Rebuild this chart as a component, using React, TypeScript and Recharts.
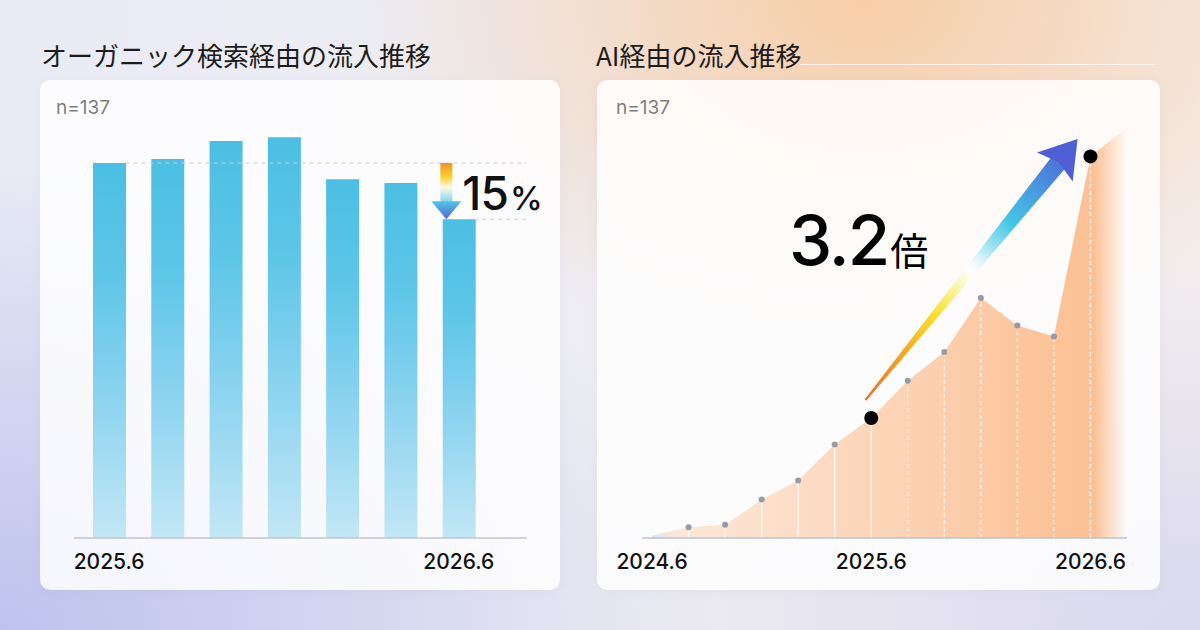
import React from 'react';
import { BarChart, Bar, ComposedChart, Area, Line, XAxis, YAxis, ReferenceLine } from 'recharts';

// オーガニック検索経由の流入 (2025.6 = 100)
const organicMonths = ['2025.6', '2025.8', '2025.10', '2025.12', '2026.2', '2026.4', '2026.6'];
const organicValues = [100, 101.1, 105.9, 106.9, 95.7, 94.7, 85];
const organicTicks = ['2025.6', '2026.6'];

// AI経由の流入 (2025.6 = 100)
const aiMonths = [
  '2024.6', '2024.8', '2024.10', '2024.12', '2025.2', '2025.4', '2025.6',
  '2025.8', '2025.10', '2025.12', '2026.2', '2026.4', '2026.6', '2026.8',
];
const aiValues = [2, 9, 11, 32, 48, 78, 100, 131, 155, 200, 177, 168, 318, 342];
const aiTicks = ['2024.6', '2025.6', '2026.6'];
const aiHighlights = ['2025.6', '2026.6'];

const organicData = organicMonths.map((month, i) => ({ month, pos: i, value: organicValues[i] }));
const aiData = aiMonths.map((month, i) => ({ month, value: aiValues[i] }));

const first = organicData[0];
const last = organicData[organicData.length - 1];
const dropPct = Math.round((1 - last.value / first.value) * 100);

const aiFrom = aiData[aiMonths.indexOf(aiHighlights[0])];
const aiTo = aiData[aiMonths.indexOf(aiHighlights[1])];
const growth = (aiTo.value / aiFrom.value).toFixed(1);

const NUM = 'Inter, Roboto, "Noto Sans", sans-serif';
const JP = '"Noto Sans CJK JP", "Noto Sans", sans-serif';

const makeTick = (labels: string[]) => (props: any) => {
  const { x, y, payload } = props;
  if (!labels.includes(payload.value)) return <g />;
  return (
    <text x={x} y={y + 31} textAnchor="middle" fontFamily={NUM} fontSize={21} fontWeight={500} fill="#111">
      {payload.value}
    </text>
  );
};

const DropArrow = (props: any) => {
  const { x1, y1, y2 } = props;
  const head = 18;
  return (
    <g>
      <defs>
        <linearGradient id="dropShaft" x1="0" y1="0" x2="0" y2="1">
          <stop offset="0" stopColor="#f3922a" />
          <stop offset="0.35" stopColor="#fbd12e" />
          <stop offset="0.62" stopColor="#fff8ea" />
          <stop offset="1" stopColor="#7fd6ea" />
        </linearGradient>
        <linearGradient id="dropHead" x1="0" y1="0" x2="0" y2="1">
          <stop offset="0" stopColor="#4ec6e8" />
          <stop offset="1" stopColor="#5864d6" />
        </linearGradient>
      </defs>
      <rect x={x1 - 6} y={y1} width={12} height={y2 - y1 - head + 1} fill="url(#dropShaft)" />
      <polygon points={`${x1 - 15},${y2 - head} ${x1 + 15},${y2 - head} ${x1},${y2}`} fill="url(#dropHead)" />
      <text x={x1 + 16} y={y2 - 9} fontFamily={NUM} fill="#111">
        <tspan fontSize={46} fontWeight={500} letterSpacing={-1}>{dropPct}</tspan>
        <tspan fontSize={33} fontWeight={500} dx={2}>%</tspan>
      </text>
    </g>
  );
};

const RiseArrow = (props: any) => {
  const { x1, y1, x2, y2 } = props;
  const dx = x2 - x1;
  const dy = y2 - y1;
  const len = Math.hypot(dx, dy);
  const ux = dx / len;
  const uy = dy / len;
  const nx = uy;
  const ny = -ux;
  const sx = x1 + ux * 10 + nx * 16;
  const sy = y1 + uy * 10 + ny * 16;
  const tx = x2 + ux * 5 + nx * 21;
  const ty = y2 + uy * 5 + ny * 21;
  const al = Math.hypot(tx - sx, ty - sy);
  const ax = (tx - sx) / al;
  const ay = (ty - sy) / al;
  const mx = ay;
  const my = -ax;
  const bx = tx - ax * 30;
  const by = ty - ay * 30;
  const shaft = [
    [sx + mx * 1, sy + my * 1],
    [bx + ax * 2 + mx * 9, by + ay * 2 + my * 9],
    [bx + ax * 2 - mx * 9, by + ay * 2 - my * 9],
    [sx - mx * 1, sy - my * 1],
  ];
  const headPts = [
    [tx, ty],
    [bx - ax * 6 + mx * 23, by - ay * 6 + my * 23],
    [bx, by],
    [bx - ax * 6 - mx * 23, by - ay * 6 - my * 23],
  ];
  const pts = (p: number[][]) => p.map((q) => q.join(',')).join(' ');
  return (
    <g>
      <defs>
        <linearGradient id="riseGrad" gradientUnits="userSpaceOnUse" x1={sx} y1={sy} x2={tx} y2={ty}>
          <stop offset="0" stopColor="#f06a1e" />
          <stop offset="0.18" stopColor="#f6a824" />
          <stop offset="0.33" stopColor="#f8e22c" />
          <stop offset="0.43" stopColor="#fbf3a8" />
          <stop offset="0.5" stopColor="#ffffff" stopOpacity="0.6" />
          <stop offset="0.58" stopColor="#a8e6f2" />
          <stop offset="0.68" stopColor="#44c6e6" />
          <stop offset="0.85" stopColor="#4b88dc" />
          <stop offset="1" stopColor="#4e5ed4" />
        </linearGradient>
      </defs>
      <polygon points={pts(shaft)} fill="url(#riseGrad)" />
      <polygon points={pts(headPts)} fill="#4f60d4" />
    </g>
  );
};

const AiDot = (props: any) => {
  const { cx, cy, index, payload } = props;
  if (index === 0 || index === aiData.length - 1) return <g key={`d${index}`} />;
  if (aiHighlights.includes(payload.month)) {
    return <circle key={`d${index}`} cx={cx} cy={cy} r={7} fill="#000" />;
  }
  return <circle key={`d${index}`} cx={cx} cy={cy} r={3} fill="#9a99a6" />;
};

const card: React.CSSProperties = {
  position: 'absolute',
  top: 80,
  height: 510,
  borderRadius: 10,
  background: 'rgba(255,255,255,0.84)',
  boxShadow: '0 2px 10px rgba(140,140,190,0.08)',
};

// index axis: bar centres at 0..6, line ends reach the plot edge
const lastPos = organicData.length - 1;
const barHalf = 0.283;
const edgePos = lastPos + 1.18;

const App: React.FC = () => (
  <div
    style={{
      position: 'absolute',
      left: 0,
      top: 0,
      width: 1200,
      height: 630,
      overflow: 'hidden',
      background:
        'radial-gradient(ellipse 42% 58% at 72% 0%, rgba(248,202,158,0.9), rgba(248,202,158,0) 100%),' +
        'radial-gradient(ellipse 60% 75% at 0% 100%, rgba(190,194,238,1), rgba(190,194,238,0) 100%),' +
        'radial-gradient(ellipse 50% 60% at 100% 100%, rgba(214,214,240,0.9), rgba(214,214,240,0) 100%),' +
        'linear-gradient(90deg, #e9ebf5 0%, #eeedf3 50%, #f4eeee 100%)',
    }}
  >
    <div style={{ ...card, left: 40, width: 520 }}>
      <BarChart width={520} height={510} data={organicData} margin={{ top: 8, right: 33, bottom: 0, left: 34 }}>
        <defs>
          <linearGradient id="barFill" x1="0" y1="0" x2="0" y2="1">
            <stop offset="0" stopColor="#4bbfe3" />
            <stop offset="0.3" stopColor="#5ec6e8" />
            <stop offset="0.65" stopColor="#8fd4f0" />
            <stop offset="1" stopColor="#c2e7f5" />
          </linearGradient>
        </defs>
        <XAxis
          dataKey="month"
          height={52}
          padding={{ left: 6, right: 39 }}
          axisLine={{ stroke: '#c3c5ce', strokeWidth: 1.5 }}
          tickLine={false}
          tickSize={0}
          tickMargin={0}
          interval={0}
          tick={makeTick(organicTicks)}
        />
        <XAxis
          xAxisId="n"
          type="number"
          dataKey="pos"
          domain={[0, lastPos]}
          padding={{ left: 35, right: 69 }}
          hide
        />
        <YAxis domain={[0, 120]} hide />
        <ReferenceLine
          xAxisId="n"
          ifOverflow="visible"
          segment={[{ x: barHalf, y: first.value }, { x: edgePos, y: first.value }]}
          stroke="#c9ccd4"
          strokeDasharray="4 4"
        />
        <ReferenceLine
          xAxisId="n"
          ifOverflow="visible"
          segment={[{ x: lastPos + barHalf, y: last.value }, { x: edgePos, y: last.value }]}
          stroke="#c9ccd4"
          strokeDasharray="4 4"
        />
        <Bar dataKey="value" fill="url(#barFill)" barSize={33} isAnimationActive={false} />
        <ReferenceLine
          xAxisId="n"
          ifOverflow="visible"
          segment={[{ x: lastPos - 0.2, y: first.value }, { x: lastPos - 0.2, y: last.value }]}
          shape={DropArrow}
        />
      </BarChart>
    </div>

    <div style={{ ...card, left: 597, width: 563 }}>
      <ComposedChart width={563} height={510} data={aiData} margin={{ top: 26, right: 33, bottom: 0, left: 45 }}>
        <defs>
          <linearGradient id="aiFill" x1="0" y1="0" x2="1" y2="0">
            <stop offset="0" stopColor="#e6e2ea" />
            <stop offset="0.06" stopColor="#fde7d9" />
            <stop offset="0.45" stopColor="#fcd6ba" />
            <stop offset="0.85" stopColor="#fbc398" />
            <stop offset="0.93" stopColor="#fcc194" />
            <stop offset="1" stopColor="#fcc194" stopOpacity="0" />
          </linearGradient>
        </defs>
        <XAxis
          dataKey="month"
          height={52}
          padding={{ left: 10, right: 0 }}
          axisLine={{ stroke: '#b8c3d3', strokeWidth: 1.5 }}
          tickLine={false}
          tickSize={0}
          tickMargin={0}
          interval={0}
          tick={makeTick(aiTicks)}
        />
        <YAxis domain={[0, 360]} hide />
        <Area
          type="linear"
          dataKey="value"
          stroke="none"
          fill="url(#aiFill)"
          fillOpacity={1}
          dot={false}
          activeDot={false}
          isAnimationActive={false}
        />
        {aiData.slice(1, -1).map((d, i) => (
          <ReferenceLine
            key={d.month}
            segment={[{ x: d.month, y: 0 }, { x: d.month, y: d.value }]}
            stroke="#ffffff"
            strokeWidth={1.2}
            strokeDasharray={i + 1 > aiMonths.indexOf(aiHighlights[0]) ? '4 3' : undefined}
            strokeOpacity={0.9}
          />
        ))}
        <ReferenceLine
          segment={[{ x: aiFrom.month, y: aiFrom.value }, { x: aiTo.month, y: aiTo.value }]}
          shape={RiseArrow}
        />
        <Line dataKey="value" stroke="none" dot={AiDot} activeDot={false} isAnimationActive={false} />
      </ComposedChart>
    </div>

    <svg width={1200} height={630} style={{ position: 'absolute', left: 0, top: 0, pointerEvents: 'none' }}>
      <text x={41} y={66} fontFamily={JP} fontSize={26} fill="#1c1c1c">オーガニック検索経由の流入推移</text>
      <text x={596} y={66} fontFamily={JP} fontSize={26} fill="#1c1c1c">AI経由の流入推移</text>
      <line x1={800} y1={64.5} x2={1155} y2={64.5} stroke="#ffffff" strokeOpacity={0.7} />
      <text x={56} y={114} fontFamily={NUM} fontSize={19} fill="#7e7e7e">n=137</text>
      <text x={616} y={114} fontFamily={NUM} fontSize={19} fill="#7e7e7e">n=137</text>
      <text x={789} y={265} fill="#000">
        <tspan fontFamily={NUM} fontSize={69} fontWeight={500} letterSpacing={-2}>{growth}</tspan>
        <tspan fontFamily={JP} fontSize={38} dx={2}>倍</tspan>
      </text>
    </svg>
  </div>
);

export default App;
